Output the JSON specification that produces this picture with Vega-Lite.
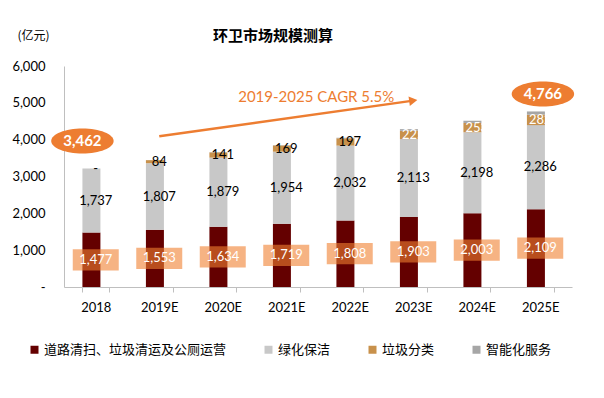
{
  "$schema": "https://vega.github.io/schema/vega-lite/v6.json",
  "autosize": {"type": "none"},
  "padding": {"left": 64, "top": 66, "right": 32, "bottom": 111},
  "width": 508,
  "height": 221,
  "background": "white",
  "title": {"text": "环卫市场规模测算", "anchor": "middle", "dx": -45, "offset": -15, "font": "Noto Sans CJK SC", "fontSize": 15, "fontWeight": "bold", "color": "#000000"},
  "config": {
    "view": {"stroke": null},
    "font": "Lato",
    "axisY": {"labelOverlap": false, "labelExpr": "datum.value == 0 ? '-' : format(datum.value, ',')", "labelPadding": 19, "ticks": false, "grid": false, "domainColor": "#BFBFBF", "labelFont": "Lato", "labelFontSize": 13, "labelColor": "#000000", "titleAngle": 0, "titleAlign": "left", "titleBaseline": "middle", "titleX": -47, "titleY": -31, "titleFont": "Noto Sans CJK SC", "titleFontSize": 12, "titleFontWeight": "normal", "titleColor": "#000000"}
  },
  "datasets": {
    "main": [
      {"year": "2018", "cat": "道路清扫、垃圾清运及公厕运营", "o": 1, "value": 1477},
      {"year": "2018", "cat": "绿化保洁", "o": 2, "value": 1737},
      {"year": "2018", "cat": "垃圾分类", "o": 3, "value": 0},
      {"year": "2018", "cat": "智能化服务", "o": 4, "value": 0},
      {"year": "2019E", "cat": "道路清扫、垃圾清运及公厕运营", "o": 1, "value": 1553},
      {"year": "2019E", "cat": "绿化保洁", "o": 2, "value": 1807},
      {"year": "2019E", "cat": "垃圾分类", "o": 3, "value": 84},
      {"year": "2019E", "cat": "智能化服务", "o": 4, "value": 3},
      {"year": "2020E", "cat": "道路清扫、垃圾清运及公厕运营", "o": 1, "value": 1634},
      {"year": "2020E", "cat": "绿化保洁", "o": 2, "value": 1879},
      {"year": "2020E", "cat": "垃圾分类", "o": 3, "value": 141},
      {"year": "2020E", "cat": "智能化服务", "o": 4, "value": 6},
      {"year": "2021E", "cat": "道路清扫、垃圾清运及公厕运营", "o": 1, "value": 1719},
      {"year": "2021E", "cat": "绿化保洁", "o": 2, "value": 1954},
      {"year": "2021E", "cat": "垃圾分类", "o": 3, "value": 169},
      {"year": "2021E", "cat": "智能化服务", "o": 4, "value": 10},
      {"year": "2022E", "cat": "道路清扫、垃圾清运及公厕运营", "o": 1, "value": 1808},
      {"year": "2022E", "cat": "绿化保洁", "o": 2, "value": 2032},
      {"year": "2022E", "cat": "垃圾分类", "o": 3, "value": 197},
      {"year": "2022E", "cat": "智能化服务", "o": 4, "value": 15},
      {"year": "2023E", "cat": "道路清扫、垃圾清运及公厕运营", "o": 1, "value": 1903},
      {"year": "2023E", "cat": "绿化保洁", "o": 2, "value": 2113},
      {"year": "2023E", "cat": "垃圾分类", "o": 3, "value": 225},
      {"year": "2023E", "cat": "智能化服务", "o": 4, "value": 45},
      {"year": "2024E", "cat": "道路清扫、垃圾清运及公厕运营", "o": 1, "value": 2003},
      {"year": "2024E", "cat": "绿化保洁", "o": 2, "value": 2198},
      {"year": "2024E", "cat": "垃圾分类", "o": 3, "value": 253},
      {"year": "2024E", "cat": "智能化服务", "o": 4, "value": 60},
      {"year": "2025E", "cat": "道路清扫、垃圾清运及公厕运营", "o": 1, "value": 2109},
      {"year": "2025E", "cat": "绿化保洁", "o": 2, "value": 2286},
      {"year": "2025E", "cat": "垃圾分类", "o": 3, "value": 282},
      {"year": "2025E", "cat": "智能化服务", "o": 4, "value": 89}
    ],
    "arrow": [
      {"year": "2019E", "v": 4090},
      {"year": "2023E", "v": 5060}
    ],
    "head": [
      {"year": "2023E", "v": 5060}
    ],
    "cagr": [
      {"year": "2021E", "v": 5170, "text": "2019-2025 CAGR 5.5%"}
    ],
    "ovals": [
      {"year": "2018", "v": 3964, "text": "3,462", "shift": 0},
      {"year": "2025E", "v": 5240, "text": "4,766", "shift": 16}
    ]
  },
  "encoding": {
    "x": {
      "field": "year", "type": "nominal",
      "scale": {"domain": ["2018", "2019E", "2020E", "2021E", "2022E", "2023E", "2024E", "2025E"], "paddingInner": 0.58, "paddingOuter": 0.29},
      "axis": {"title": null, "labelAngle": 0, "tickBand": "extent", "domainColor": "#BFBFBF", "tickColor": "#BFBFBF", "tickSize": 5, "labelFont": "Lato", "labelFontSize": 13, "labelColor": "#000000", "labelPadding": 9}
    }
  },
  "layer": [
    {
      "data": {"name": "main"},
      "transform": [
        {"stack": "value", "groupby": ["year"], "sort": [{"field": "o", "order": "ascending"}], "as": ["v0", "v1"]},
        {"calculate": "(datum.v0 + datum.v1) / 2", "as": "mid"},
        {"calculate": "datum.value == 0 ? '-' : format(datum.value, ',')", "as": "label"}
      ],
      "layer": [
        {
          "mark": {"type": "bar"},
          "encoding": {
            "y": {"field": "v0", "type": "quantitative", "scale": {"domain": [0, 6000], "nice": false},
              "axis": {"title": "(亿元)", "values": [0, 1000, 2000, 3000, 4000, 5000, 6000]}},
            "y2": {"field": "v1"},
            "color": {
              "field": "cat", "type": "nominal",
              "scale": {"domain": ["道路清扫、垃圾清运及公厕运营", "绿化保洁", "垃圾分类", "智能化服务"], "range": ["#640000", "#C8C8C8", "#C8914B", "#A6A6A6"]},
              "legend": {"title": null, "orient": "none", "legendX": -36, "legendY": 277, "direction": "horizontal", "symbolType": "square", "symbolSize": 64, "symbolStrokeWidth": 0, "labelFont": "Noto Sans CJK SC", "labelFontSize": 13, "labelColor": "#000000", "labelOffset": 3, "labelLimit": 400, "columnPadding": 35}
            }
          }
        },
        {
          "transform": [{"filter": "datum.o == 1"}],
          "mark": {"type": "point", "shape": "M-1,-0.46H1V0.46H-1Z", "filled": true, "color": "#F08030", "opacity": 0.6, "strokeWidth": 0},
          "encoding": {
            "y": {"field": "mid", "type": "quantitative", "axis": {"title": "(亿元)", "values": [0, 1000, 2000, 3000, 4000, 5000, 6000]}},
            "size": {"value": 2116}
          }
        },
        {
          "transform": [{"filter": "datum.o == 1"}],
          "mark": {"type": "text", "font": "Lato", "fontSize": 13, "color": "#FFFFFF", "baseline": "middle"},
          "encoding": {
            "y": {"field": "mid", "type": "quantitative", "axis": {"title": "(亿元)", "values": [0, 1000, 2000, 3000, 4000, 5000, 6000]}},
            "text": {"field": "label"}
          }
        },
        {
          "transform": [{"filter": "datum.o == 2"}],
          "mark": {"type": "text", "font": "Lato", "fontSize": 13, "color": "#000000", "baseline": "middle"},
          "encoding": {
            "y": {"field": "mid", "type": "quantitative", "axis": {"title": "(亿元)", "values": [0, 1000, 2000, 3000, 4000, 5000, 6000]}},
            "text": {"field": "label"}
          }
        },
        {
          "transform": [{"filter": "datum.o == 3"}],
          "mark": {"type": "text", "font": "Lato", "fontSize": 13, "baseline": "middle"},
          "encoding": {
            "y": {"field": "mid", "type": "quantitative", "axis": {"title": "(亿元)", "values": [0, 1000, 2000, 3000, 4000, 5000, 6000]}},
            "text": {"field": "label"},
            "color": {"condition": {"test": "datum.value > 200", "value": "#FFFFFF"}, "value": "#000000"}
          }
        }
      ]
    },
    {
      "data": {"name": "arrow"},
      "mark": {"type": "line", "color": "#ED7D31", "strokeWidth": 2.5},
      "encoding": {
        "y": {"field": "v", "type": "quantitative", "axis": {"title": "(亿元)", "values": [0, 1000, 2000, 3000, 4000, 5000, 6000]}}
      }
    },
    {
      "data": {"name": "head"},
      "mark": {"type": "point", "shape": "triangle-right", "filled": true, "color": "#ED7D31", "opacity": 1, "angle": -8},
      "encoding": {
        "y": {"field": "v", "type": "quantitative", "axis": {"title": "(亿元)", "values": [0, 1000, 2000, 3000, 4000, 5000, 6000]}},
        "size": {"value": 90}
      }
    },
    {
      "data": {"name": "cagr"},
      "mark": {"type": "text", "font": "Lato", "fontSize": 15, "color": "#ED7D31", "dx": 30, "baseline": "middle"},
      "encoding": {
        "y": {"field": "v", "type": "quantitative", "axis": {"title": "(亿元)", "values": [0, 1000, 2000, 3000, 4000, 5000, 6000]}},
        "text": {"field": "text"}
      }
    },
    {
      "data": {"name": "ovals"},
      "mark": {"type": "point", "shape": "M-1,0A1,0.4 0 1,0 1,0A1,0.4 0 1,0 -1,0Z", "filled": true, "color": "#ED7D31", "opacity": 1, "strokeWidth": 0},
      "encoding": {
        "y": {"field": "v", "type": "quantitative", "axis": {"title": "(亿元)", "values": [0, 1000, 2000, 3000, 4000, 5000, 6000]}},
        "xOffset": {"field": "shift", "type": "quantitative", "scale": {"domain": [0, 16], "range": [0, 16]}},
        "size": {"value": 3900}
      }
    },
    {
      "data": {"name": "ovals"},
      "mark": {"type": "text", "font": "Lato", "fontSize": 15, "fontWeight": "bold", "color": "#FFFFFF", "baseline": "middle"},
      "encoding": {
        "y": {"field": "v", "type": "quantitative", "axis": {"title": "(亿元)", "values": [0, 1000, 2000, 3000, 4000, 5000, 6000]}},
        "xOffset": {"field": "shift", "type": "quantitative", "scale": {"domain": [0, 16], "range": [0, 16]}},
        "text": {"field": "text"}
      }
    }
  ]
}
